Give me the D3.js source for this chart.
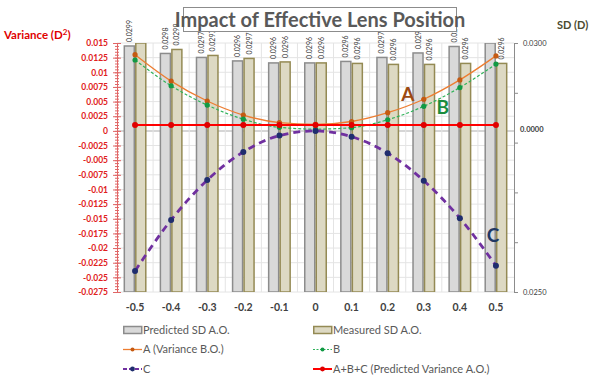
<!DOCTYPE html>
<html>
<head>
<meta charset="utf-8">
<script src="https://cdn.jsdelivr.net/npm/d3@7"></script>
<style>
    body { margin: 0; background: #fff; }
    svg { display: block; font-family: Lato, "Open Sans", sans-serif; }
</style>
</head>
<body>
<div id="chart"></div>
<script>
    // values
    var categories = ['-0.5', '-0.4', '-0.3', '-0.2', '-0.1', '0', '0.1', '0.2', '0.3', '0.4', '0.5'];
    var predictedSD = [0.02994, 0.02979, 0.02971, 0.02964, 0.0296, 0.0296, 0.02963, 0.02971, 0.0298, 0.02993, 0.0301];
    var measuredSD = [0.0302, 0.02987, 0.02975, 0.02969, 0.02962, 0.0296, 0.02959, 0.02957, 0.02957, 0.02959, 0.02959];
    var seriesA = [0.0130, 0.0085, 0.0051, 0.0027, 0.0014, 0.0011, 0.0016, 0.0031, 0.0054, 0.0087, 0.0128];
    var seriesB = [0.0121, 0.0077, 0.0044, 0.0020, 0.0006, 0.0003, 0.00055, 0.0019, 0.0042, 0.0074, 0.0114];
    var seriesC = [-0.0239, -0.0152, -0.0084, -0.0036, -0.0008, 0, -0.0010, -0.0038, -0.0085, -0.0149, -0.0230];
    var seriesSum = [0.001, 0.001, 0.001, 0.001, 0.001, 0.001, 0.001, 0.001, 0.001, 0.001, 0.001];
    var leftTicks = d3.range(-11, 7).map(function (i) { return i * 0.0025; });
    var rightTicks = [0.025, 0.026, 0.027, 0.028, 0.029, 0.030];
    var legendNames = ['Predicted SD A.O.', 'Measured SD A.O.', 'A (Variance B.O.)', 'B', 'C', 'A+B+C (Predicted Variance A.O.)'];

    var width = 590, height = 381;
    var plot = {left: 117, right: 514, top: 43, bottom: 292};

    var svg = d3.select('#chart').append('svg')
        .attr('width', width)
        .attr('height', height);

    var x = d3.scaleBand().domain(categories).range([plot.left, plot.right]);
    var xBar = d3.scaleBand().domain(['pred', 'meas']).range([0, x.bandwidth()]).paddingOuter(0.57);
    var yL = d3.scaleLinear().domain([-0.0275, 0.015]).range([plot.bottom, plot.top]);
    var yR = d3.scaleLinear().domain([0.025, 0.030]).range([plot.bottom, plot.top]).clamp(true);

    var cx = function (i) { return x(categories[i]) + x.bandwidth() / 2; };

    /**
     * grid
     */
    var grid = svg.append('g');
    grid.selectAll('.hg')
        .data(leftTicks)
        .enter().append('line')
        .attr('x1', plot.left).attr('x2', plot.right)
        .attr('y1', function (d) { return yL(d); })
        .attr('y2', function (d) { return yL(d); })
        .attr('stroke', function (d) { return Math.abs(d) < 1e-9 ? '#c8c8c8' : '#e4e4e4'; })
        .attr('stroke-width', function (d) { return Math.abs(d) < 1e-9 ? 1.5 : 1; });
    grid.selectAll('.vg')
        .data(categories.slice(1))
        .enter().append('line')
        .attr('x1', function (d) { return x(d); })
        .attr('x2', function (d) { return x(d); })
        .attr('y1', plot.top).attr('y2', plot.bottom)
        .attr('stroke', '#e4e4e4');

    /**
     * bars on the SD axis
     */
    svg.append('clipPath').attr('id', 'plotclip')
        .append('rect')
        .attr('x', plot.left).attr('y', plot.top)
        .attr('width', plot.right - plot.left).attr('height', plot.bottom - plot.top);

    var barSeries = [
        {key: 'pred', values: predictedSD, fill: '#d9d9d9', stroke: '#8c8c8c'},
        {key: 'meas', values: measuredSD, fill: '#ddd9c3', stroke: '#948a54'}
    ];

    var barGroup = svg.append('g').attr('clip-path', 'url(#plotclip)');
    barSeries.forEach(function (s) {
        barGroup.selectAll('.bar-' + s.key)
            .data(s.values)
            .enter().append('rect')
            .attr('x', function (d, i) { return x(categories[i]) + xBar(s.key) + 0.75; })
            .attr('width', xBar.bandwidth() - 1.5)
            .attr('y', function (d) { return yR(d); })
            .attr('height', function (d) { return plot.bottom - yR(d); })
            .attr('fill', s.fill)
            .attr('stroke', s.stroke)
            .attr('stroke-width', 1.5);
    });

    // value labels above the bars (the clipped ones have none)
    barSeries.forEach(function (s) {
        svg.selectAll('.lbl-' + s.key)
            .data(s.values.map(function (v, i) { return {v: v, i: i}; })
                .filter(function (d) { return d.v < 0.030; }))
            .enter().append('text')
            .attr('transform', function (d) {
                var bx = x(categories[d.i]) + xBar(s.key) + xBar.bandwidth() / 2 + 2.5;
                var by = Math.max(yR(d.v) - 4, 26);
                return 'translate(' + bx + ',' + by + ') rotate(-90)';
            })
            .attr('font-size', 7)
            .attr('fill', '#404040')
            .text(function (d) { return d.v.toFixed(4); });
    });

    /**
     * line series on the variance axis
     */
    var lineSeries = [
        {values: seriesA, color: '#ed7d31', marker: '#c55a11', width: 1.3, dash: null, r: 2.6},
        {values: seriesB, color: '#2fb35a', marker: '#119944', width: 1.2, dash: '3,2', r: 2.6},
        {values: seriesC, color: '#7030a0', marker: '#1f2d6e', width: 2.8, dash: '7,5', r: 3},
        {values: seriesSum, color: '#ff0000', marker: '#e00000', width: 2, dash: null, r: 3}
    ];

    var line = d3.line()
        .x(function (d, i) { return cx(i); })
        .y(function (d) { return yL(d); })
        .curve(d3.curveMonotoneX);

    lineSeries.forEach(function (s) {
        var g = svg.append('g');
        g.append('path')
            .datum(s.values)
            .attr('d', line)
            .attr('fill', 'none')
            .attr('stroke', s.color)
            .attr('stroke-width', s.width)
            .attr('stroke-dasharray', s.dash);
        g.selectAll('circle')
            .data(s.values)
            .enter().append('circle')
            .attr('cx', function (d, i) { return cx(i); })
            .attr('cy', function (d) { return yL(d); })
            .attr('r', s.r)
            .attr('fill', s.marker);
    });

    // curve names written on the plot
    var tags = [
        {t: 'A', i: 8, v: seriesA[8], dx: -16, dy: 2, color: '#9c4a12'},
        {t: 'B', i: 9, v: seriesB[9], dx: -17, dy: 26, color: '#1a8c3c'},
        {t: 'C', i: 10, v: seriesC[10], dx: -3, dy: -24, color: '#1f3864'}
    ];
    svg.selectAll('.tag')
        .data(tags)
        .enter().append('text')
        .attr('x', function (d) { return cx(d.i) + d.dx; })
        .attr('y', function (d) { return yL(d.v) + d.dy; })
        .attr('text-anchor', 'middle')
        .attr('font-size', 19)
        .attr('font-weight', 'bold')
        .attr('fill', function (d) { return d.color; })
        .text(function (d) { return d.t; });

    /**
     * left axis (variance)
     */
    var leftAxis = svg.append('g')
        .attr('transform', 'translate(' + plot.left + ',0)');
    leftAxis.append('g')
        .call(d3.axisLeft(yL)
            .tickValues(d3.range(-55, 31).map(function (i) { return i * 0.0005; }))
            .tickFormat('')
            .tickSizeOuter(0))
        .call(function (g) {
            g.select('.domain').remove();
            g.selectAll('.tick line').attr('x1', 2).attr('x2', -2).attr('stroke', '#e06666');
        });
    leftAxis.append('g')
        .call(d3.axisLeft(yL)
            .tickValues(leftTicks)
            .tickFormat(function (d) { return String(+d.toFixed(4)); })
            .tickSizeOuter(0))
        .call(function (g) {
            g.select('.domain').attr('stroke', '#e06666');
            g.selectAll('.tick line').attr('x1', 4).attr('x2', -4).attr('stroke', '#e06666');
            g.selectAll('.tick text')
                .attr('x', -9)
                .attr('fill', '#e02020')
                .attr('font-size', 8.5)
                .attr('font-weight', 'bold')
                .attr('font-family', 'Lato, sans-serif');
        });

    /**
     * right axis (SD)
     */
    svg.append('g')
        .attr('transform', 'translate(' + plot.right + ',0)')
        .call(d3.axisRight(yR)
            .tickValues(rightTicks)
            .tickFormat(function (d) {
                return (d === 0.025 || d === 0.030) ? d.toFixed(4) : '';
            })
            .tickSize(4)
            .tickSizeOuter(0))
        .call(function (g) {
            g.select('.domain').attr('stroke', '#8c8c8c');
            g.selectAll('.tick line').attr('stroke', '#8c8c8c');
            g.selectAll('.tick text')
                .attr('x', 9)
                .attr('fill', '#404040')
                .attr('font-size', 7.5)
                .attr('font-family', 'Lato, sans-serif');
        });
    svg.append('text')
        .attr('x', 520).attr('y', yL(0) - 1)
        .attr('dy', '0.32em')
        .attr('font-size', 7.5)
        .attr('font-weight', 'bold')
        .attr('fill', '#404040')
        .text('0.0000');

    /**
     * x axis labels
     */
    svg.append('g')
        .attr('transform', 'translate(0,' + plot.bottom + ')')
        .call(d3.axisBottom(x).tickSize(0))
        .call(function (g) {
            g.select('.domain').remove();
            g.selectAll('.tick text')
                .attr('y', 12)
                .attr('fill', '#404040')
                .attr('font-size', 10.5)
                .attr('font-weight', 'bold')
                .attr('font-family', 'Lato, sans-serif');
        });

    /**
     * titles
     */
    svg.append('rect')
        .attr('x', 183.5).attr('y', 7.5)
        .attr('width', 273).attr('height', 24)
        .attr('fill', '#fff')
        .attr('stroke', '#8c8c8c');
    svg.append('text')
        .attr('x', 320).attr('y', 26.5)
        .attr('text-anchor', 'middle')
        .attr('font-size', 20)
        .attr('font-weight', 'bold')
        .attr('fill', '#595959')
        .text('Impact of Effective Lens Position');

    var vt = svg.append('text')
        .attr('x', 4).attr('y', 39)
        .attr('font-size', 11.5)
        .attr('font-weight', 'bold')
        .attr('fill', '#e00000');
    vt.append('tspan').text('Variance (D');
    vt.append('tspan').attr('font-size', 8).attr('dy', -4).text('2');
    vt.append('tspan').attr('dy', 4).text(')');

    svg.append('text')
        .attr('x', 557).attr('y', 29)
        .attr('font-size', 11)
        .attr('font-weight', 'bold')
        .attr('fill', '#4a4a30')
        .text('SD (D)');

    /**
     * legend
     */
    var legendStyles = [
        {type: 'rect', fill: '#d9d9d9', stroke: '#8c8c8c'},
        {type: 'rect', fill: '#ddd9c3', stroke: '#948a54'},
        lineSeries[0], lineSeries[1], lineSeries[2], lineSeries[3]
    ];
    var legend = svg.append('g');
    legendNames.forEach(function (name, i) {
        var lx = i % 2 === 0 ? 123 : 313;
        var ly = 330 + Math.floor(i / 2) * 19.5;
        var st = legendStyles[i];
        var item = legend.append('g').attr('transform', 'translate(' + lx + ',' + ly + ')');
        if (st.type === 'rect') {
            item.append('rect')
                .attr('x', 0.75).attr('y', -3.5)
                .attr('width', 18).attr('height', 7)
                .attr('fill', st.fill).attr('stroke', st.stroke).attr('stroke-width', 1.5);
        } else {
            item.append('line')
                .attr('x1', 0).attr('x2', 19)
                .attr('stroke', st.color)
                .attr('stroke-width', Math.min(st.width, 2))
                .attr('stroke-dasharray', st.dash ? (st.width > 2 ? '4,2' : '2,1.5') : null);
            item.append('circle')
                .attr('cx', 9.5).attr('r', st.r - 0.6)
                .attr('fill', st.marker);
        }
        item.append('text')
            .attr('x', 20).attr('dy', '0.35em')
            .attr('font-size', 11)
            .attr('fill', '#595959')
            .text(name);
    });
</script>
</body>
</html>
